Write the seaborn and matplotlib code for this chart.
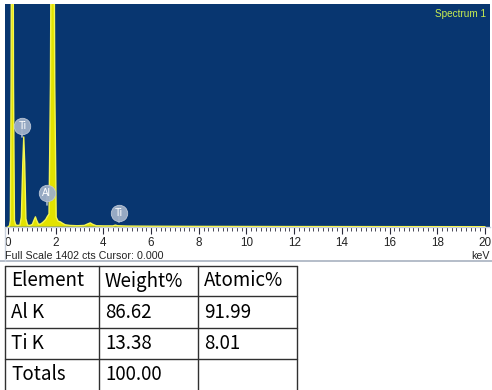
import matplotlib
matplotlib.use("Agg")
import matplotlib.pyplot as plt
from matplotlib.lines import Line2D
import seaborn as sns
import pandas as pd

sns.set_theme(style="white")
plt.rcParams["font.family"] = ["Liberation Sans", "DejaVu Sans"]

# EDS spectrum (energy in keV, counts)
energy = [0.00, 0.06, 0.10, 0.13, 0.16, 0.20, 0.23, 0.27, 0.32, 0.40, 0.50,
          0.56, 0.62, 0.66, 0.70, 0.75, 0.82, 0.92, 1.02, 1.10, 1.15, 1.20,
          1.28, 1.38, 1.48, 1.58, 1.65, 1.72, 1.78, 1.84, 1.90, 1.96, 2.02,
          2.10, 2.20, 2.28, 2.40, 2.60, 2.90, 3.20, 3.35, 3.45, 3.55, 3.70,
          4.00, 4.40, 4.50, 4.60, 5.00, 6.00, 8.00, 12.00, 20.00]
counts = [0, 5, 40, 900, 3000, 3000, 900, 40, 12, 8, 10,
          60, 400, 565, 400, 50, 10, 8, 15, 45, 62, 40,
          15, 18, 30, 45, 64, 80, 900, 3000, 3000, 900, 60,
          35, 30, 22, 12, 8, 6, 8, 18, 24, 15, 6,
          5, 5, 10, 6, 4, 3, 2, 1, 0]
full_scale = 1402

# Element line markers
marker_labels = ["Ti", "Al", "Ti"]
marker_energy = [0.60, 1.62, 4.65]
marker_stem_base = [565, 137, 31]
marker_height = [634, 211, 84]

# Quantification table
table_header = ["Element", "Weight%", "Atomic%"]
table_elements = ["Al K", "Ti K", "Totals"]
weight_pct = ["86.62", "13.38", "100.00"]
atomic_pct = ["91.99", "8.01", ""]

W, H = 492, 390
fig = plt.figure(figsize=(W / 100, H / 100), dpi=100)
fig.patch.set_facecolor("white")

# spectrum panel
x0, x1, y0, y1 = 5, 490, 4, 226.7
ax = fig.add_axes([x0 / W, 1 - y1 / H, (x1 - x0) / W, (y1 - y0) / H])
ax.set_facecolor("#083670")

df = pd.DataFrame({"energy": energy, "counts": counts})
ax.fill_between(df["energy"], 0, df["counts"], color="#e2e200", linewidth=0, zorder=2)
sns.lineplot(data=df, x="energy", y="counts", ax=ax, color="#f6f650",
             linewidth=1.0, sort=False, zorder=3)

ax.set_xlim(-0.126, 20.21)
ax.set_ylim(0, full_scale)
ax.set_xlabel("")
ax.set_ylabel("")
ax.set_yticks([])
ax.set_xticks(range(0, 21, 2))
ax.set_xticks([i * 0.2 for i in range(0, 101)], minor=True)
ax.tick_params(axis="x", which="major", direction="out", length=5, width=0.8,
               color="#2a2a3a", labelsize=8.4, pad=2.5, labelcolor="#222222",
               bottom=True)
ax.tick_params(axis="x", which="minor", direction="out", length=3, width=0.6,
               color="#2a2a3a", bottom=True)
for s in ["top", "right", "left"]:
    ax.spines[s].set_visible(False)
ax.spines["bottom"].set_color("#c8d0dc")
ax.spines["bottom"].set_linewidth(1.0)

for lab, e, base, top in zip(marker_labels, marker_energy, marker_stem_base, marker_height):
    ax.plot([e, e], [base, top], color="#a8b8cc", linewidth=1.2, zorder=4)
    ax.scatter([e], [top], s=140, color="#9fb0c8", edgecolors="#c0cad8",
               linewidths=0.6, alpha=0.95, zorder=5)
    ax.text(e, top, lab, color="white", fontsize=7.2, ha="center",
            va="center", zorder=6)

ax.text(0.992, 0.955, "Spectrum 1", transform=ax.transAxes, ha="right",
        va="center", fontsize=7.2, color="#c8ee50")

# overlay in pixel coordinates for captions and the table
ov = fig.add_axes([0, 0, 1, 1], facecolor="none")
ov.set_xlim(0, W)
ov.set_ylim(H, 0)
ov.axis("off")

ov.text(5, 256, "Full Scale 1402 cts Cursor: 0.000", fontsize=7.7,
        color="#222222", ha="left", va="center")
ov.text(490, 256, "keV", fontsize=7.7, color="#222222", ha="right", va="center")
ov.add_line(Line2D([0, W], [261, 261], color="#a8b2c0", linewidth=1.2))
ov.add_line(Line2D([5, 5], [227, 261], color="#c8d0dc", linewidth=1.0))

col_x = [5, 99, 198, 297]
row_y = [266, 296, 328, 359, 391]
tfont = ["Noto Sans CJK KR", "DejaVu Sans"]
for cx in col_x:
    ov.add_line(Line2D([cx, cx], [row_y[0], row_y[-1]], color="#303030", linewidth=1.0))
for ry in row_y:
    ov.add_line(Line2D([col_x[0], col_x[-1]], [ry, ry], color="#303030", linewidth=1.0))

rows = [table_header] + [list(r) for r in zip(table_elements, weight_pct, atomic_pct)]
for i, row in enumerate(rows):
    yc = (row_y[i] + row_y[i + 1]) / 2
    for j, txt in enumerate(row):
        ov.text(col_x[j] + 6, yc, txt, fontsize=13.5, family=tfont,
                color="black", ha="left", va="center")

fig.savefig("out.png", dpi=100)
